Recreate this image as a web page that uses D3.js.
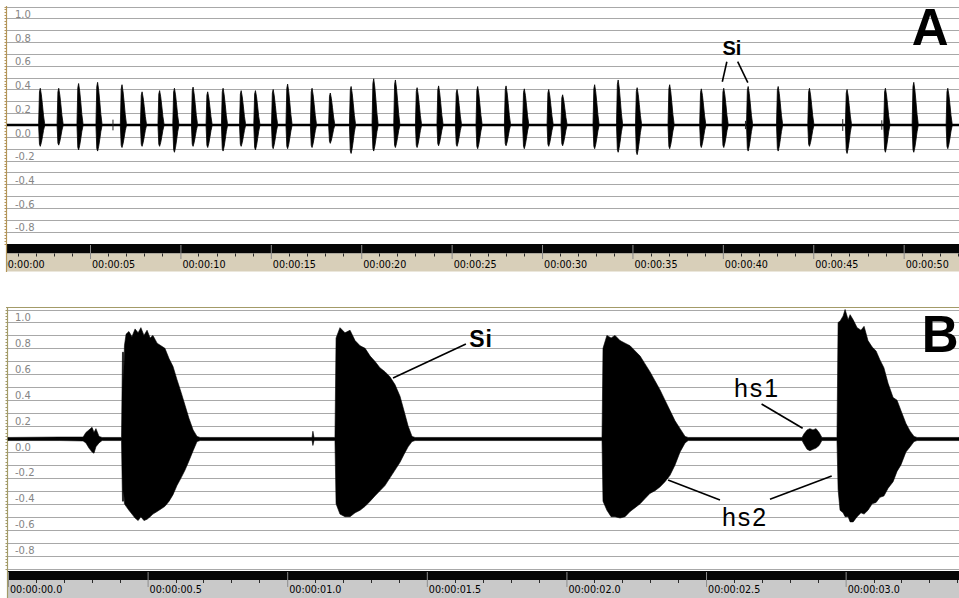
<!DOCTYPE html>
<html>
<head>
<meta charset="utf-8">
<script src="https://cdn.jsdelivr.net/npm/d3@7/dist/d3.min.js"></script>
<style>
body { margin: 0; background: #fff; }
svg { display: block; }
.tlabel { font-family: "DejaVu Sans", sans-serif; font-size: 9.6px; fill: #000; }
.alabel { font-family: "DejaVu Sans", sans-serif; font-size: 10px; fill: #858585; }
.note { font-family: "Liberation Sans", Arial, sans-serif; fill: #000; }
</style>
</head>
<body>
<div id="chart"></div>
<script>
// amplitude axis labels (both panels)
var ampTicks = [1.0, 0.8, 0.6, 0.4, 0.2, 0.0, -0.2, -0.4, -0.6, -0.8];
var ampLabels = ["1.0", "0.8", "0.6", "0.4", "0.2", "0.0", "-0.2", "-0.4", "-0.6", "-0.8"];

// time axis, panel A (seconds)
var timeTicksA = [0, 5, 10, 15, 20, 25, 30, 35, 40, 45, 50];
var timeLabelsA = ["00:00:00", "00:00:05", "00:00:10", "00:00:15", "00:00:20", "00:00:25",
                   "00:00:30", "00:00:35", "00:00:40", "00:00:45", "00:00:50"];

// time axis, panel B (seconds)
var timeTicksB = [0, 0.5, 1.0, 1.5, 2.0, 2.5, 3.0];
var timeLabelsB = ["00:00:00.0", "00:00:00.5", "00:00:01.0", "00:00:01.5",
                   "00:00:02.0", "00:00:02.5", "00:00:03.0"];

// panel A: one entry per syllable burst (time s, positive peak, negative peak)
var burstTimeA = [2.23, 3.25, 4.35, 5.40, 6.75, 7.86, 8.83, 9.65, 10.68, 11.49, 12.34, 13.34, 14.13,
                  15.11, 15.91, 17.26, 18.27, 19.42, 20.67, 21.87, 23.07, 24.26, 25.28, 26.42, 27.99,
                  29.00, 30.35, 31.12, 32.89, 34.19, 35.24, 37.04, 38.79, 40.03, 41.38, 43.04, 44.77,
                  46.85, 48.97, 50.54, 52.42];
var burstTopA = [0.31, 0.31, 0.35, 0.36, 0.34, 0.28, 0.29, 0.31, 0.32, 0.28, 0.31, 0.29, 0.29,
                 0.30, 0.345, 0.31, 0.27, 0.325, 0.39, 0.38, 0.315, 0.33, 0.30, 0.325, 0.33,
                 0.305, 0.30, 0.255, 0.34, 0.38, 0.315, 0.34, 0.305, 0.31, 0.325, 0.325, 0.31,
                 0.30, 0.31, 0.36, 0.31];
var burstBotA = [-0.18, -0.17, -0.21, -0.22, -0.19, -0.18, -0.18, -0.23, -0.18, -0.19, -0.22, -0.18, -0.21,
                 -0.20, -0.20, -0.19, -0.155, -0.24, -0.22, -0.19, -0.19, -0.175, -0.18, -0.20, -0.175,
                 -0.20, -0.18, -0.175, -0.20, -0.23, -0.25, -0.20, -0.19, -0.19, -0.22, -0.22, -0.18,
                 -0.24, -0.23, -0.23, -0.20];
// small noise blips on the A baseline
var noiseTimeA = [6.27, 41.25, 46.63, 48.79];
var noiseAmpA = [0.045, 0.035, 0.05, 0.04];

// panel B: min/max envelope of the trace (time s, max, min)
var envTimeB = [0, 0.186, 0.269, 0.279, 0.290, 0.301, 0.308, 0.315, 0.326, 0.337,
  0.4065, 0.410, 0.4135, 0.4145, 0.417, 0.423, 0.433, 0.444, 0.455, 0.466, 0.476, 0.487, 0.498, 0.509, 0.519,
  0.534, 0.548, 0.562, 0.577, 0.591, 0.605, 0.620, 0.634, 0.648, 0.663, 0.677, 0.688,
  1.089, 1.092, 1.096,
  1.171, 1.175, 1.189, 1.207, 1.225, 1.243, 1.261, 1.279, 1.297, 1.314, 1.332, 1.350, 1.368,
  1.386, 1.404, 1.418, 1.433, 1.447, 1.458,
  2.1275, 2.131, 2.145, 2.160, 2.174, 2.192, 2.210, 2.228, 2.246, 2.264, 2.2815, 2.299, 2.317,
  2.335, 2.353, 2.371, 2.389, 2.407, 2.425, 2.436,
  2.844, 2.851, 2.862, 2.872, 2.883, 2.894, 2.905, 2.915,
  2.969, 2.973, 2.980, 2.991, 2.998, 3.009, 3.016, 3.027, 3.041, 3.055, 3.066, 3.080, 3.095,
  3.109, 3.123, 3.137, 3.152, 3.170, 3.184, 3.198, 3.216, 3.231, 3.245, 3.256, 3.406];
var envMaxB = [0.012, 0.015, 0.015, 0.05, 0.07, 0.09, 0.05, 0.08, 0.02, 0.012,
  0.012, 0.67, 0.67, 0.45, 0.72, 0.81, 0.83, 0.79, 0.85, 0.82, 0.86, 0.80, 0.84, 0.78, 0.80,
  0.74, 0.72, 0.70, 0.62, 0.56, 0.46, 0.36, 0.26, 0.16, 0.07, 0.02, 0.012,
  0.012, 0.06, 0.012,
  0.012, 0.78, 0.86, 0.82, 0.84, 0.76, 0.72, 0.70, 0.64, 0.60, 0.55, 0.52, 0.48,
  0.42, 0.33, 0.22, 0.10, 0.02, 0.012,
  0.012, 0.70, 0.80, 0.78, 0.80, 0.76, 0.74, 0.72, 0.68, 0.64, 0.58, 0.52, 0.45,
  0.38, 0.30, 0.22, 0.14, 0.08, 0.02, 0.012,
  0.012, 0.04, 0.07, 0.08, 0.07, 0.08, 0.05, 0.012,
  0.012, 0.90, 0.91, 0.95, 1.00, 0.92, 0.96, 0.92, 0.86, 0.84, 0.87, 0.76, 0.71,
  0.68, 0.61, 0.55, 0.43, 0.32, 0.30, 0.22, 0.12, 0.06, 0.02, 0.012, 0.012];
var envMinB = [-0.012, -0.012, -0.015, -0.03, -0.07, -0.10, -0.11, -0.06, -0.03, -0.012,
  -0.012, -0.48, -0.48, -0.40, -0.50, -0.52, -0.55, -0.58, -0.61, -0.63, -0.60, -0.63, -0.62, -0.60, -0.58,
  -0.56, -0.54, -0.52, -0.48, -0.43, -0.36, -0.30, -0.24, -0.17, -0.09, -0.02, -0.012,
  -0.012, -0.05, -0.012,
  -0.012, -0.50, -0.58, -0.60, -0.60, -0.57, -0.55, -0.52, -0.48, -0.44, -0.40, -0.36, -0.30,
  -0.24, -0.18, -0.12, -0.06, -0.02, -0.012,
  -0.012, -0.48, -0.55, -0.60, -0.60, -0.61, -0.60, -0.56, -0.53, -0.50, -0.46, -0.42, -0.40,
  -0.37, -0.33, -0.28, -0.20, -0.10, -0.03, -0.012,
  -0.012, -0.04, -0.08, -0.09, -0.08, -0.07, -0.05, -0.012,
  -0.012, -0.39, -0.55, -0.57, -0.60, -0.60, -0.64, -0.64, -0.60, -0.57, -0.58, -0.55, -0.50,
  -0.49, -0.45, -0.44, -0.38, -0.33, -0.25, -0.20, -0.10, -0.06, -0.02, -0.012, -0.012];

var W = 959, H = 598;

var svg = d3.select("#chart")
    .append("svg")
    .attr("width", W)
    .attr("height", H);

var xA = d3.scaleLinear().domain([0, 53.06]).range([-0.4, 959]);
var yA = d3.scaleLinear().domain([-1, 1]).range([243.5, 6.5]);
var xB = d3.scaleLinear().domain([0, 3.406]).range([8, 959]);
var yB = d3.scaleLinear().domain([-1, 1]).range([568.5, 309.5]);

function drawFrame(cfg) {
    var g = svg.append("g");
    var clipId = "clip" + cfg.name;
    svg.append("clipPath").attr("id", clipId)
        .append("rect")
        .attr("x", cfg.left).attr("y", 0)
        .attr("width", W - cfg.left).attr("height", H);

    // horizontal grid, every 0.1
    g.selectAll(".grid")
        .data(cfg.y.ticks(20))
        .enter().append("line")
        .attr("x1", cfg.left).attr("x2", W)
        .attr("y1", function(d) { return Math.round(cfg.y(d)) + 0.5; })
        .attr("y2", function(d) { return Math.round(cfg.y(d)) + 0.5; })
        .attr("stroke", "#a8a8a8")
        .attr("stroke-width", 1);

    // amplitude labels, hanging just below their value
    g.selectAll(".alabel")
        .data(ampTicks)
        .enter().append("text")
        .attr("class", "alabel")
        .attr("x", 15)
        .attr("y", function(d) { return cfg.y(d) + 11.5; })
        .text(function(d, i) { return ampLabels[i]; });

    // black time bar and the strip under it
    g.append("rect")
        .attr("x", cfg.left).attr("y", cfg.barTop)
        .attr("width", W - cfg.left).attr("height", cfg.barH)
        .attr("fill", "#050505");
    g.append("rect")
        .attr("x", cfg.left).attr("y", cfg.barTop + cfg.barH)
        .attr("width", W - cfg.left).attr("height", cfg.stripH)
        .attr("fill", cfg.stripColor);

    // minor ticks
    g.selectAll(".minor")
        .data(cfg.minor)
        .enter().append("line")
        .attr("x1", function(d) { return Math.round(cfg.x(d)) + 0.5; })
        .attr("x2", function(d) { return Math.round(cfg.x(d)) + 0.5; })
        .attr("y1", cfg.barTop + cfg.barH)
        .attr("y2", cfg.barTop + cfg.barH + 3)
        .attr("stroke", "#2a2a2a");

    // major ticks + labels via a d3 axis
    var axis = g.append("g")
        .attr("clip-path", "url(#" + clipId + ")")
        .attr("transform", "translate(0," + (cfg.barTop + 1) + ")")
        .call(d3.axisBottom(cfg.x)
            .tickValues(cfg.ticks)
            .tickFormat(function(d, i) { return cfg.labels[i]; })
            .tickSize(cfg.tickLen));
    axis.select(".domain").remove();
    axis.selectAll(".tick line").attr("stroke", "#8c8c8c");
    axis.selectAll(".tick text")
        .attr("class", "tlabel")
        .attr("fill", null)
        .attr("font-size", null)
        .attr("font-family", null)
        .attr("x", 1.5)
        .attr("y", cfg.labelY - cfg.barTop - 1)
        .attr("dy", 0)
        .style("text-anchor", "start");

    // left ruler
    g.append("line")
        .attr("x1", cfg.left + 0.5).attr("x2", cfg.left + 0.5)
        .attr("y1", cfg.rulerTop).attr("y2", cfg.rulerBottom)
        .attr("stroke", cfg.rulerColor).attr("stroke-width", 1.2);
    g.selectAll(".rtick")
        .data(d3.range(-1, 1.0001, 0.025))
        .enter().append("line")
        .attr("x1", cfg.left - 1.5).attr("x2", cfg.left + 0.5)
        .attr("y1", function(d) { return Math.round(cfg.y(d)) + 0.5; })
        .attr("y2", function(d) { return Math.round(cfg.y(d)) + 0.5; })
        .attr("stroke", cfg.rulerColor);
    return g;
}

// ---------- panel A ----------
var gA = drawFrame({
    name: "A", x: xA, y: yA, left: 6,
    barTop: 244, barH: 9.5, stripH: 18, stripColor: "#d8cfb9",
    minor: d3.range(0, 54).filter(function(d) { return d % 5 !== 0; }),
    ticks: timeTicksA, labels: timeLabelsA, tickLen: 14, labelY: 267.5,
    rulerTop: 6, rulerBottom: 272, rulerColor: "#b39559"
});

gA.append("line")
    .attr("x1", 7).attr("x2", W)
    .attr("y1", yA(0)).attr("y2", yA(0))
    .attr("stroke", "#000").attr("stroke-width", 2.6);

gA.selectAll(".noise")
    .data(noiseTimeA)
    .enter().append("line")
    .attr("x1", function(d) { return xA(d); })
    .attr("x2", function(d) { return xA(d); })
    .attr("y1", function(d, i) { return yA(noiseAmpA[i]); })
    .attr("y2", function(d, i) { return yA(-noiseAmpA[i]); })
    .attr("stroke", "#222").attr("stroke-width", 1);

// spindle outline of one burst: time offset (s) and fraction of its peak
var spindle = [[-0.07, 0.05], [-0.025, 0.9], [0.02, 1], [0.08, 0.82], [0.14, 0.55], [0.2, 0.25], [0.26, 0.04]];

gA.selectAll(".burst")
    .data(burstTimeA)
    .enter().append("path")
    .attr("class", "burst")
    .attr("fill", "#000")
    .attr("stroke", "#000")
    .attr("stroke-width", 0.8)
    .attr("d", function(t, i) {
        return d3.area()
            .x(function(s) { return xA(t + s[0]); })
            .y1(function(s) { return yA(burstTopA[i] * s[1]); })
            .y0(function(s) { return yA(burstBotA[i] * s[1]); })(spindle);
    });

// ---------- panel B ----------
svg.append("line")
    .attr("x1", 6).attr("x2", W)
    .attr("y1", 307.5).attr("y2", 307.5)
    .attr("stroke", "#a39b68").attr("stroke-width", 1.2);

var gB = drawFrame({
    name: "B", x: xB, y: yB, left: 7,
    barTop: 571, barH: 9, stripH: 18, stripColor: "#c9c9c9",
    minor: d3.range(0, 35).filter(function(d) { return d % 5 !== 0; }).map(function(d) { return d / 10; }),
    ticks: timeTicksB, labels: timeLabelsB, tickLen: 15, labelY: 593,
    rulerTop: 307, rulerBottom: 598, rulerColor: "#a39b68"
});

var envB = envTimeB.map(function(t, i) { return [t, envMaxB[i], envMinB[i]]; });
gB.append("path")
    .datum(envB)
    .attr("fill", "#000")
    .attr("stroke", "#000")
    .attr("stroke-width", 0.6)
    .attr("d", d3.area()
        .x(function(d) { return xB(d[0]); })
        .y1(function(d) { return yB(d[1]); })
        .y0(function(d) { return yB(d[2]); }));

// ---------- annotations ----------
function leader(g, x, y, p) {
    g.append("line")
        .attr("x1", x(p[0])).attr("y1", y(p[1]))
        .attr("x2", x(p[2])).attr("y2", y(p[3]))
        .attr("stroke", "#000").attr("stroke-width", 1.6);
}
function note(g, x, y, p, txt, size, weight, spacing) {
    g.append("text")
        .attr("class", "note")
        .attr("x", x(p[0])).attr("y", y(p[1]))
        .attr("font-size", size)
        .attr("font-weight", weight)
        .attr("letter-spacing", spacing || 0)
        .text(txt);
}

note(gA, xA, yA, [50.45, 0.675], "A", 51, "bold");
note(gA, xA, yA, [39.98, 0.59], "Si", 20, "bold");
leader(gA, xA, yA, [40.22, 0.534, 39.97, 0.365]);
leader(gA, xA, yA, [40.82, 0.534, 41.38, 0.357]);

note(gB, xB, yB, [3.273, 0.67], "B", 51, "bold");
note(gB, xB, yB, [1.652, 0.71], "Si", 23, "bold", 1);
leader(gB, xB, yB, [1.640, 0.734, 1.379, 0.471]);
note(gB, xB, yB, [2.600, 0.324], "hs1", 25, "normal", 2);
leader(gB, xB, yB, [2.699, 0.270, 2.846, 0.083]);
note(gB, xB, yB, [2.557, -0.672], "hs2", 25, "normal", 2);
leader(gB, xB, yB, [2.550, -0.471, 2.364, -0.317]);
leader(gB, xB, yB, [2.729, -0.466, 2.950, -0.286]);
</script>
</body>
</html>
